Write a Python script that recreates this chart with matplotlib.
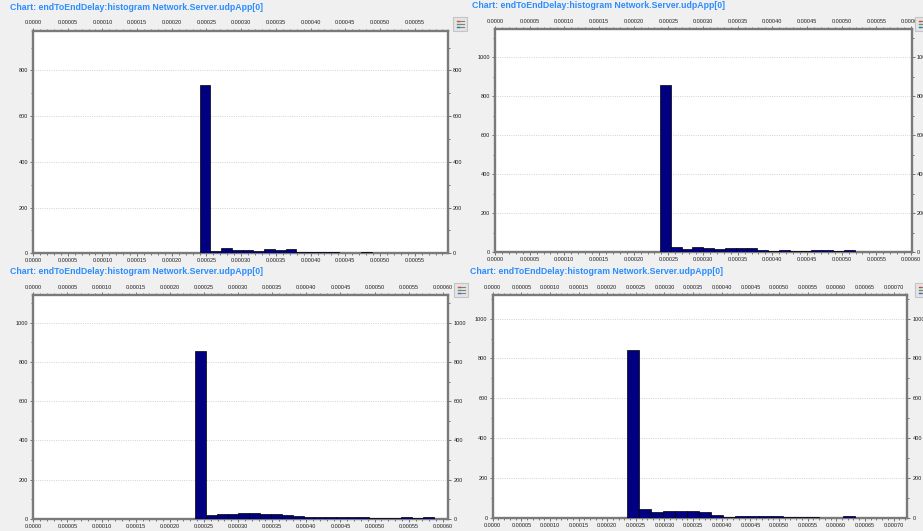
import matplotlib
matplotlib.use("Agg")
import matplotlib.pyplot as plt
from matplotlib.ticker import MultipleLocator, FuncFormatter
from matplotlib.patches import Rectangle
import numpy as np

TITLE = "Chart: endToEndDelay:histogram Network.Server.udpApp[0]"

# Histogram bin counts for the four runs (end-to-end delay in seconds)
p1_counts = [735, 12, 22, 16, 16, 9, 20, 16, 20, 6, 4, 4, 4, 0, 0, 4]
p1_bin_start = 0.000240
p1_bin_width = 0.0000155

p2_counts = [860, 26, 15, 26, 20, 15, 22, 22, 22, 10, 5, 10, 5, 5, 10, 10, 5, 10]
p2_bin_start = 0.000238
p2_bin_width = 0.0000156

p3_counts = [855, 19, 24, 22, 29, 29, 24, 24, 20, 14, 7, 10, 10, 10, 7, 7, 3, 3, 2, 7, 2, 7]
p3_bin_start = 0.000237
p3_bin_width = 0.0000159

p4_counts = [841, 42, 27, 35, 35, 35, 27, 13, 5, 8, 8, 8, 8, 3, 3, 3, 0, 0, 7]
p4_bin_start = 0.000234
p4_bin_width = 0.0000210

# Axis ranges
p1_xmax, p1_ymax = 0.000598, 975
p2_xmax, p2_ymax = 0.000601, 1143
p3_xmax, p3_ymax = 0.000608, 1140
p4_xmax, p4_ymax = 0.000724, 1120

W, H = 923, 531
fig = plt.figure(figsize=(W / 100, H / 100), dpi=100, facecolor="#f0f0f0")

LABEL_FAMILY = ["Liberation Sans", "DejaVu Sans"]


def px_axes(left, top, right, bottom):
    return fig.add_axes([left / W, 1 - bottom / H, (right - left) / W, (bottom - top) / H])


def xfmt(v, pos):
    if abs(v) < 1e-12:
        return "0.0000"
    return f"{v:.5f}"


def draw_panel(rect, counts, start, width, xmax, ymax, title_xy, icon_xy):
    ax = px_axes(*rect)
    ax.set_facecolor("white")
    n = len(counts)
    lefts = start + width * np.arange(n)
    ax.bar(lefts, counts, width=width, align="edge", color="#000080",
           edgecolor="black", linewidth=0.5, zorder=3)
    ax.set_xlim(0, xmax)
    ax.set_ylim(0, ymax)
    ax.xaxis.set_major_locator(MultipleLocator(0.00005))
    ax.xaxis.set_minor_locator(MultipleLocator(0.00001))
    ax.yaxis.set_major_locator(MultipleLocator(200))
    ax.yaxis.set_minor_locator(MultipleLocator(100))
    ax.xaxis.set_major_formatter(FuncFormatter(xfmt))
    ax.yaxis.set_major_formatter(FuncFormatter(lambda v, p: f"{int(round(v))}"))
    ax.tick_params(which="both", direction="out", top=True, right=True,
                   labeltop=True, labelright=True, color="#606060", width=0.6)
    ax.tick_params(which="major", length=2.5, pad=1.2, labelsize=4.0,
                   labelcolor="#202020")
    ax.tick_params(which="minor", length=1.5)
    for lab in ax.get_xticklabels() + ax.get_yticklabels():
        lab.set_fontfamily(LABEL_FAMILY)
    ax.yaxis.grid(True, which="major", linestyle=(0, (1.2, 1.5)), color="#cccccc",
                  linewidth=0.6, zorder=0)
    ax.set_axisbelow(True)
    for s in ax.spines.values():
        s.set_color("#7a7a7a")
        s.set_linewidth(1.7)
    fig.text(title_xy[0] / W, 1 - title_xy[1] / H, TITLE, ha="left", va="center",
             fontsize=6.3, fontweight="bold", color="#2a8cff", family=LABEL_FAMILY)
    # legend toggle button
    ix, iy = icon_xy
    fig.patches.append(Rectangle((ix / W, 1 - (iy + 14) / H), 14 / W, 14 / H,
                                 transform=fig.transFigure, facecolor="#e4e4e4",
                                 edgecolor="#c4c4c4", linewidth=0.8))
    for k, c in enumerate(["#e04040", "#40b040", "#4060e0"]):
        yy = 1 - (iy + 4 + 3 * k) / H
        fig.lines.append(plt.Line2D([(ix + 4) / W, (ix + 5.5) / W], [yy, yy],
                                    transform=fig.transFigure, color=c, linewidth=1.0))
        fig.lines.append(plt.Line2D([(ix + 7) / W, (ix + 10.5) / W], [yy, yy],
                                    transform=fig.transFigure, color="#808080", linewidth=0.8))
    return ax


draw_panel((33, 30.5, 448, 253.3), p1_counts, p1_bin_start, p1_bin_width,
           p1_xmax, p1_ymax, (10, 7), (453, 17))
draw_panel((495, 29.3, 911.7, 252.3), p2_counts, p2_bin_start, p2_bin_width,
           p2_xmax, p2_ymax, (472, 6), (915, 17))
draw_panel((33.3, 295.3, 448.3, 518.7), p3_counts, p3_bin_start, p3_bin_width,
           p3_xmax, p3_ymax, (10, 271), (454, 283))
draw_panel((492.7, 294.7, 907.3, 517.7), p4_counts, p4_bin_start, p4_bin_width,
           p4_xmax, p4_ymax, (470, 271), (915, 283))

fig.savefig("out.png", dpi=100, facecolor=fig.get_facecolor())
